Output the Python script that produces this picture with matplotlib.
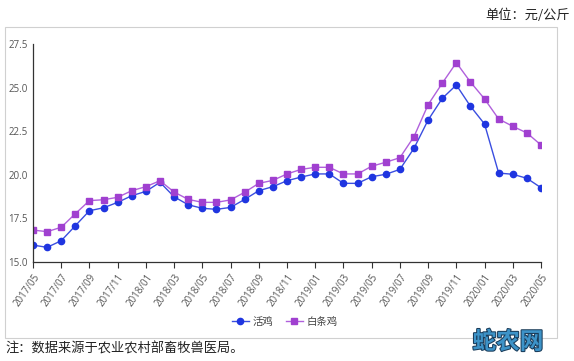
import matplotlib
matplotlib.use("Agg")
import matplotlib.pyplot as plt
from matplotlib.patches import Rectangle
import matplotlib.patheffects as pe

plt.rcParams['font.family'] = ['Noto Sans CJK SC', 'DejaVu Sans']

months = []
for y in range(2017, 2021):
    for m in range(1, 13):
        if (y == 2017 and m < 5) or (y == 2020 and m > 5):
            continue
        months.append(f"{y}/{m:02d}")

live_chicken = [15.97, 15.84, 16.22, 17.08, 17.94, 18.11, 18.42, 18.80, 19.05, 19.57,
                18.74, 18.28, 18.08, 18.02, 18.13, 18.59, 19.09, 19.32, 19.66, 19.87,
                20.05, 20.05, 19.51, 19.51, 19.89, 20.03, 20.31, 21.52, 23.14, 24.38,
                25.15, 23.93, 22.91, 20.10, 20.03, 19.80, 19.26]
white_chicken = [16.83, 16.74, 16.99, 17.77, 18.52, 18.57, 18.71, 19.09, 19.32, 19.66,
                 19.01, 18.59, 18.42, 18.42, 18.56, 19.00, 19.51, 19.68, 20.05, 20.31,
                 20.43, 20.43, 20.05, 20.05, 20.49, 20.72, 20.98, 22.19, 24.02, 25.25,
                 26.43, 25.32, 24.35, 23.20, 22.78, 22.40, 21.71]
series_names = ["活鸡", "白条鸡"]
y_ticks = [15.0, 17.5, 20.0, 22.5, 25.0, 27.5]

W, H = 574, 361
fig = plt.figure(figsize=(W / 100, H / 100), dpi=100)

# outer frame
fig.patches.append(Rectangle((5 / W, 1 - 338 / H), 552 / W, 311 / H, transform=fig.transFigure,
                             fill=False, edgecolor='#d0d0d0', linewidth=0.8))

ax = fig.add_axes([33 / W, 1 - 262 / H, 508 / W, 218 / H])
x = list(range(len(months)))
ax.plot(x, live_chicken, color='#3a4ee0', marker='o', markersize=4.5, linewidth=1.0,
        markerfacecolor='#1f35e0', markeredgecolor='#1f35e0', label=series_names[0])
ax.plot(x, white_chicken, color='#b060dc', marker='s', markersize=4.5, linewidth=1.0,
        markerfacecolor='#a040d0', markeredgecolor='#a040d0', label=series_names[1])

ax.set_xlim(0, len(months) - 1)
ax.set_ylim(15, 27.5)
ax.set_yticks(y_ticks)
ax.set_yticklabels([f"{v:.1f}" for v in y_ticks], fontsize=7, color='#555555', family='Open Sans')
ax.set_xticks(x[::2])
ax.set_xticklabels(months[::2], rotation=55, ha='right', rotation_mode='anchor', fontsize=7,
                   color='#555555', family='Open Sans')
ax.tick_params(axis='y', length=0, pad=4)
ax.tick_params(axis='x', length=4, width=0.8, color='#333333', pad=3)
for s in ['top', 'right']:
    ax.spines[s].set_visible(False)
ax.spines['left'].set_color('#333333')
ax.spines['bottom'].set_color('#333333')
ax.spines['left'].set_linewidth(0.9)
ax.spines['bottom'].set_linewidth(0.9)

leg = fig.legend(loc='center', bbox_to_anchor=(285 / W, 1 - 322 / H), ncol=2, frameon=False,
                 fontsize=7.5, handlelength=1.6, columnspacing=1.2, handletextpad=0.4,
                 labelcolor='#444444')

fig.text(570 / W, 1 - 15 / H, "单位：元/公斤", ha='right', va='center', fontsize=9.5, color='#222222')
fig.text(5 / W, 1 - 349 / H, "注：数据来源于农业农村部畜牧兽医局。", ha='left', va='center',
         fontsize=9.5, color='#222222')
t = fig.text(508 / W, 1 - 342 / H, "蛇农网", ha='center', va='center', fontsize=17,
             color='#3d93c8', fontweight='bold', style='italic')
t.set_path_effects([pe.withStroke(linewidth=1.5, foreground='#1a3c5a')])

fig.savefig("out.png", dpi=100)
